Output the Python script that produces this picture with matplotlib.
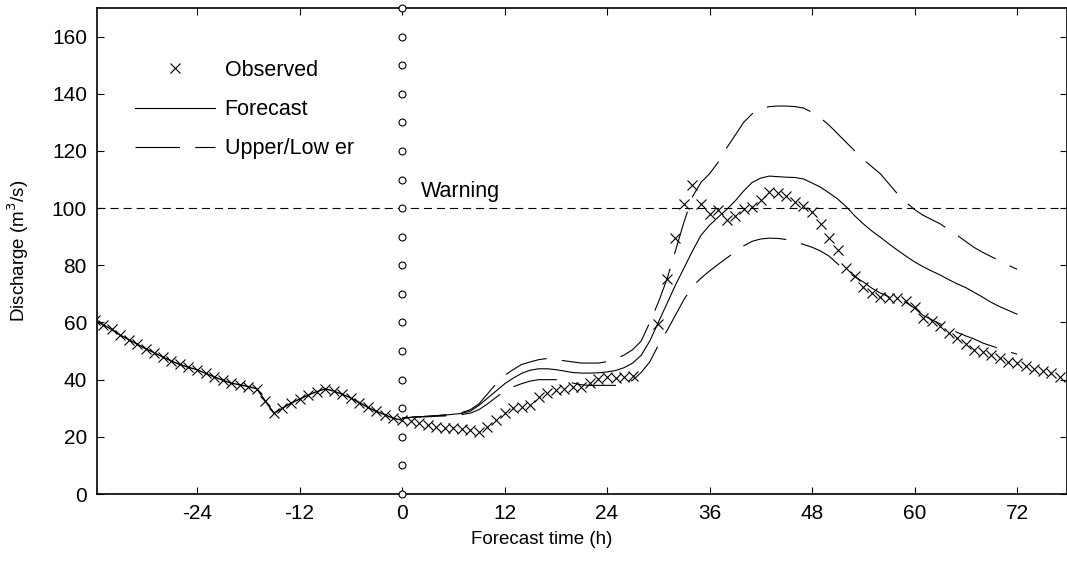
import numpy as np
import matplotlib
matplotlib.use('Agg')
import matplotlib.pyplot as plt

plt.rcParams['font.family'] = ['Liberation Sans', 'DejaVu Sans']
plt.rcParams['lines.scale_dashes'] = False
plt.rcParams['axes.unicode_minus'] = False

# observed discharge (hourly), hours 28-29 missing
obs_t = list(range(-36, 28)) + list(range(30, 78))
obs_q = [60.8, 59.2, 57.6, 55.6, 54.0, 52.4, 50.8, 49.4, 47.9, 46.5,
         45.3, 44.3, 43.5, 42.2, 41.0, 39.8, 38.8, 38.2, 37.6, 36.8,
         32.5, 28.3, 30.0, 31.8, 33.2, 34.6, 35.8, 36.8, 36.0, 34.9,
         33.6, 32.0, 30.3, 28.9, 27.7, 26.5, 25.8,
         25.5, 24.8, 24.2, 23.6, 23.2, 23.0, 22.8, 22.4, 21.8, 23.3,
         26.0, 28.5, 30.0, 30.5, 31.3, 33.8, 35.5, 36.3, 36.8, 37.4,
         37.6, 38.8, 40.3, 40.8, 40.5, 41.0, 41.3,
         59.5, 75.3, 89.4, 101.6, 108.0, 101.6, 98.1, 99.2, 95.7, 97.1,
         99.6, 100.3, 103.0, 105.5, 105.2, 104.1, 102.0, 100.6, 98.5, 94.4,
         89.5, 85.2, 78.9, 76.2, 72.5, 70.3, 68.9, 68.4, 68.4, 67.5,
         65.4, 61.7, 60.5, 58.7, 56.4, 54.4, 52.6, 50.5, 49.7, 48.6,
         47.4, 46.2, 45.7, 44.7, 43.9, 43.1, 42.4, 41.0]

# forecast issued at t = 0
fc_t = list(range(0, 73))
fc_q = [26.5, 26.8, 27.0, 27.2, 27.4, 27.6, 27.9, 28.2, 29.0, 31.0,
        33.5, 36.0, 38.5, 40.5, 42.2, 43.3, 43.8, 43.8, 43.5, 43.0,
        42.5, 42.3, 42.3, 42.4, 42.7, 43.2, 44.2, 45.8, 48.5, 53.5,
        60.0, 66.5, 73.0, 79.0, 85.0, 90.5, 94.0, 96.8, 99.5, 102.5,
        106.0, 109.0, 110.5, 111.2, 111.0, 110.8, 110.7, 110.2, 108.8, 107.3,
        105.3, 103.2, 100.5, 97.3, 94.5, 92.0, 89.8, 87.5, 85.3, 83.2,
        81.2, 79.5, 78.0, 76.6, 75.0, 73.5, 72.2, 70.5, 68.8, 67.0,
        65.5, 64.2, 62.9]
up_q = [26.5, 26.8, 27.0, 27.2, 27.4, 27.7, 28.0, 28.5, 29.5, 31.5,
        35.0, 38.5, 41.5, 43.5, 45.3, 46.2, 47.0, 47.4, 47.0, 46.6,
        46.2, 45.8, 45.8, 45.8, 46.3, 47.3, 48.6, 50.5, 53.5, 60.0,
        67.0, 75.0, 85.0, 95.0, 104.0, 109.0, 112.0, 116.0, 121.0, 125.5,
        130.0, 133.0, 134.7, 135.5, 135.7, 135.7, 135.5, 135.0, 133.5, 131.5,
        129.0, 126.0, 123.0, 120.0, 117.0, 114.5, 112.0, 108.5, 105.0, 102.0,
        99.5, 97.5, 96.0, 94.5, 92.5, 90.5, 88.3, 86.2, 84.5, 83.0,
        81.5, 80.0, 78.6]
lo_q = [26.5, 26.8, 27.0, 27.0, 27.2, 27.3, 27.5, 27.8, 28.3, 29.5,
        31.5, 33.8, 36.0, 37.5, 38.6, 39.5, 40.0, 40.0, 40.0, 39.5,
        38.8, 38.2, 38.0, 38.0, 38.0, 38.0, 38.5, 39.8, 42.5, 46.2,
        52.0, 57.0, 62.5, 68.0, 72.5, 75.5, 78.0, 80.3, 82.5, 84.7,
        86.8, 88.4, 89.2, 89.5, 89.4, 89.0, 88.2, 87.3, 86.3, 85.0,
        83.2, 80.5, 78.0, 76.0, 74.2, 72.0, 70.3, 69.0, 68.0, 67.0,
        65.0, 62.5, 61.0, 59.5, 58.0, 56.5, 55.3, 54.2, 52.8, 51.8,
        50.8, 49.8, 48.9]

warning = 100
circle_q = list(range(0, 171, 10))

obs_t = np.array(obs_t)
obs_q = np.array(obs_q)

fig = plt.figure(figsize=(10.67, 5.61), dpi=100)
ax = fig.add_axes([0.0906, 0.1194, 0.9094, 0.8664])

past = obs_t <= 0
ax.plot(obs_t[past], obs_q[past], color='black', lw=1.0)
ax.plot(obs_t, obs_q, linestyle='none', marker='x', ms=7, mew=0.8,
        color='black', label='Observed')
ax.plot(fc_t, fc_q, color='black', lw=0.8, label='Forecast')
ax.plot(fc_t, up_q, color='black', lw=0.8, dashes=(32, 11),
        label='Upper/Low er')
ax.plot(fc_t, lo_q, color='black', lw=0.8, dashes=(32, 11))

ax.axhline(warning, color='black', lw=0.8, dashes=(5.8, 3.6))
ax.text(2.2, 103.8, 'Warning', fontsize=15.5, va='baseline', ha='left')
ax.plot([0] * len(circle_q), circle_q, linestyle='none', marker='o', ms=5,
        mfc='white', mec='black', mew=0.8, clip_on=False, zorder=5)

ax.set_xlim(-35.75, 77.85)
ax.set_ylim(0, 170)
ax.set_xticks(np.arange(-24, 73, 12))
ax.set_yticks(np.arange(0, 161, 20))
ax.tick_params(direction='in', length=5, width=0.8, top=True, right=True,
               labelsize=15, pad=7)
for s in ax.spines.values():
    s.set_linewidth(1.2)

ax.set_xlabel('Forecast time (h)', fontsize=13.5)
ax.xaxis.set_label_coords(0.459, -0.076)
ax.set_ylabel('Discharge (m$^3$/s)', fontsize=13.5)
ax.yaxis.set_label_coords(-0.068, 0.5)

ax.legend(loc='upper left', bbox_to_anchor=(0.0395, 0.893), frameon=False,
          fontsize=15.5, handlelength=3.7, handletextpad=0.46,
          labelspacing=0.84, borderpad=0, borderaxespad=0)

fig.savefig('out.png', dpi=100)
